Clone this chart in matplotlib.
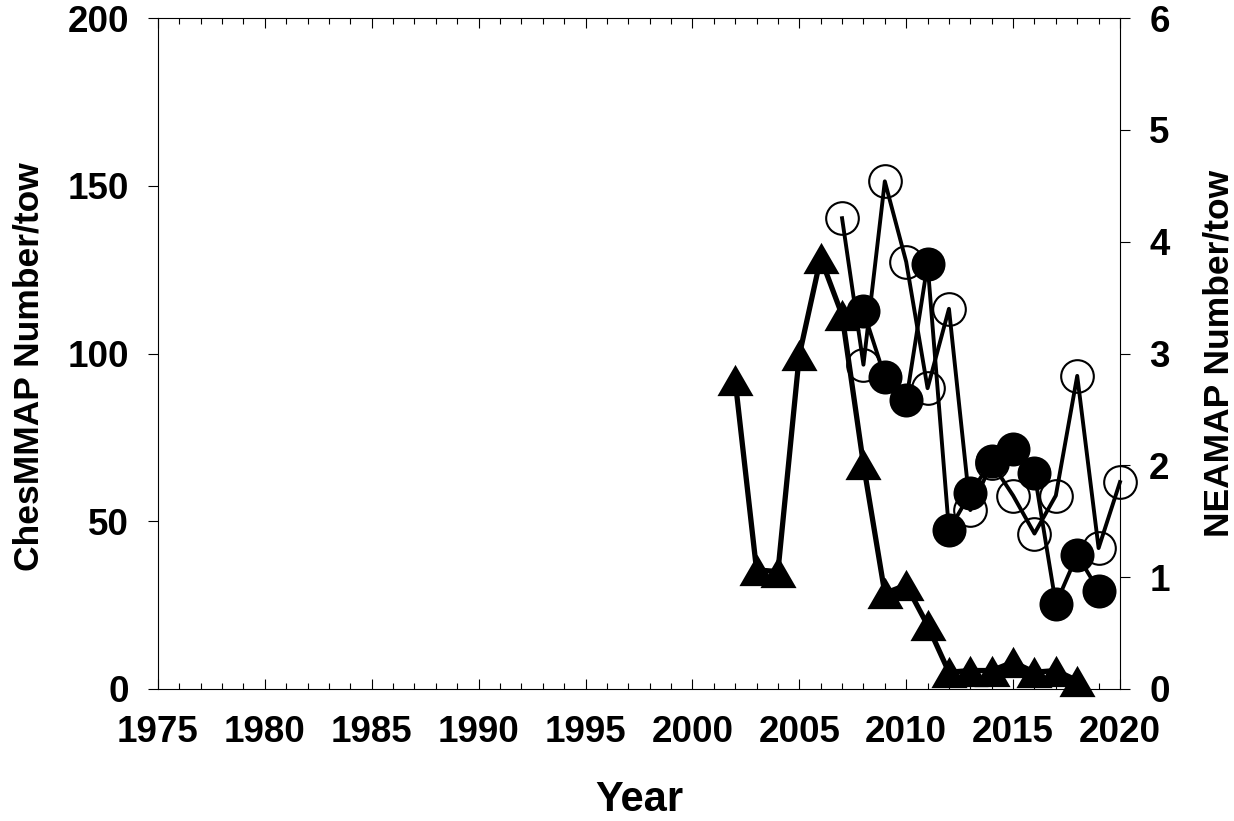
import matplotlib
matplotlib.use('Agg')
import matplotlib.pyplot as plt
from matplotlib.ticker import MultipleLocator

plt.rcParams['font.family'] = ['Liberation Sans', 'DejaVu Sans']
plt.rcParams['font.weight'] = 'bold'

# ChesMMAP (left axis) - triangles
ches_years = [2002, 2003, 2004, 2005, 2006, 2007, 2008, 2009, 2010,
              2011, 2012, 2013, 2014, 2015, 2016, 2017, 2018]
ches_vals = [92, 35.5, 35, 99.5, 128.5, 111.5, 67, 28.5, 31,
             19, 5, 5.5, 5.5, 8, 5, 5.5, 2.5]

# NEAMAP (right axis) - filled circles
nea_fill_years = [2008, 2009, 2010, 2011, 2012, 2013, 2014, 2015, 2016, 2017, 2018, 2019]
nea_fill_vals = [3.38, 2.79, 2.58, 3.80, 1.42, 1.75, 2.04, 2.15, 1.93, 0.76, 1.20, 0.88]

# NEAMAP (right axis) - open circles
nea_open_years = [2007, 2008, 2009, 2010, 2011, 2012, 2013, 2014, 2015, 2016, 2017, 2018, 2019, 2020]
nea_open_vals = [4.21, 2.90, 4.54, 3.82, 2.69, 3.40, 1.60, 2.02, 1.73, 1.39, 1.73, 2.80, 1.26, 1.85]

# equilateral triangle marker
tri = [(0, 0.433), (-0.5, -0.433), (0.5, -0.433), (0, 0.433)]

fig = plt.figure(figsize=(12.34, 8.21), dpi=100)
ax = fig.add_axes([0.128, 0.1608, 0.7796, 0.8172])
ax2 = ax.twinx()

ax.plot(ches_years, ches_vals, color='black', linewidth=3.8, marker=tri,
        markersize=26, markeredgewidth=0, clip_on=False, zorder=3)

ax2.plot(nea_open_years, nea_open_vals, color='black', linewidth=2.8, marker='o',
         markersize=23.5, markerfacecolor='none', markeredgecolor='black',
         markeredgewidth=1.5, clip_on=False, zorder=3)
ax2.plot(nea_fill_years, nea_fill_vals, color='black', linewidth=2.8, marker='o',
         markersize=24.5, markerfacecolor='black', markeredgewidth=0,
         clip_on=False, zorder=4)

ax.set_xlim(1975, 2020)
ax.set_ylim(0, 200)
ax2.set_ylim(0, 6)
ax.xaxis.set_major_locator(MultipleLocator(5))
ax.xaxis.set_minor_locator(MultipleLocator(1))
ax.yaxis.set_major_locator(MultipleLocator(50))
ax2.yaxis.set_major_locator(MultipleLocator(1))

for s in ax.spines.values():
    s.set_linewidth(0.8)
ax.spines['right'].set_visible(False)
for k in ['left', 'top', 'bottom']:
    ax2.spines[k].set_visible(False)
ax2.spines['right'].set_linewidth(0.8)

ax.tick_params(axis='x', which='major', direction='in', length=7, width=0.8,
               top=True, labelsize=26.5, pad=19)
ax.tick_params(axis='x', which='minor', direction='in', length=4.5, width=0.8, top=True)
ax.tick_params(axis='y', direction='out', length=7, width=0.8, labelsize=26.5, pad=14)
ax2.tick_params(axis='y', direction='out', length=7, width=0.8, labelsize=26.5, pad=14)

ax.set_xlabel('Year', fontsize=30, fontweight='bold')
ax.set_ylabel('ChesMMAP Number/tow', fontsize=25.5, fontweight='bold')
ax2.set_ylabel('NEAMAP Number/tow', fontsize=25.5, fontweight='bold')
ax.xaxis.set_label_coords(0.5, -0.135)
ax.yaxis.set_label_coords(-0.117, 0.48)
ax2.yaxis.set_label_coords(1.086, 0.5)

fig.savefig('out.png', dpi=100)
